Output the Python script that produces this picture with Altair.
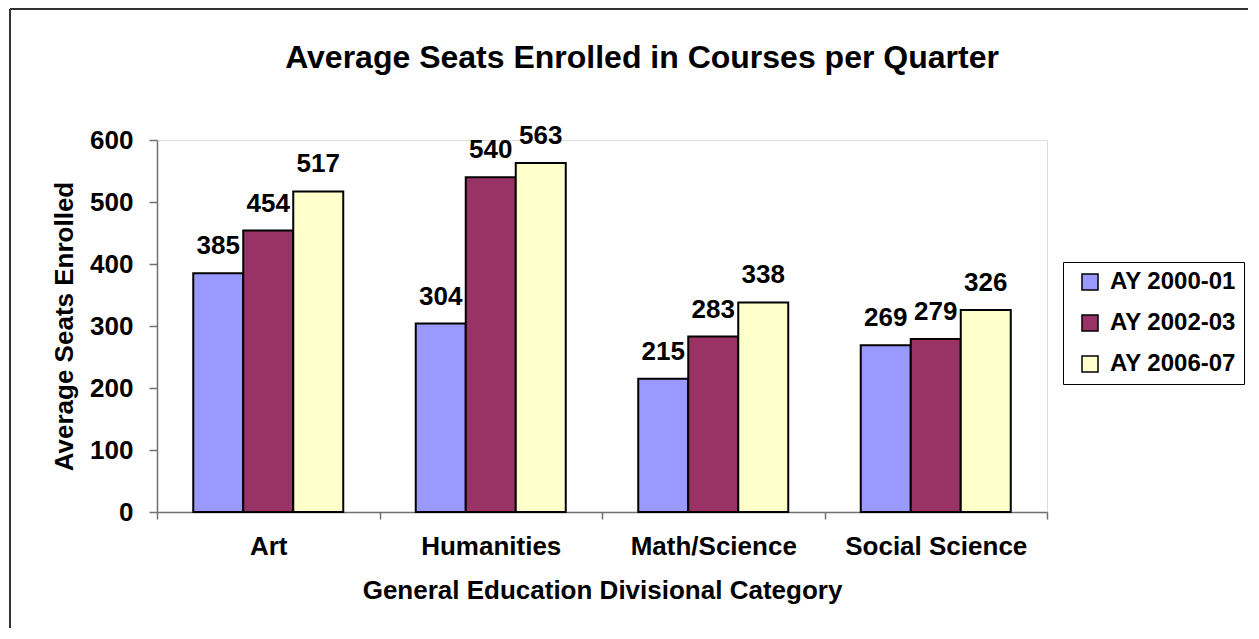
import altair as alt
import pandas as pd

categories = ["Art", "Humanities", "Math/Science", "Social Science"]
series = ["AY 2000-01", "AY 2002-03", "AY 2006-07"]
ay_2000_01 = [385, 304, 215, 269]
ay_2002_03 = [454, 540, 283, 279]
ay_2006_07 = [517, 563, 338, 326]
colors = ["#9999FF", "#993366", "#FFFFCC"]
y_ticks = [0, 100, 200, 300, 400, 500, 600]

rows = []
for s, vals in zip(series, [ay_2000_01, ay_2002_03, ay_2006_07]):
    for c, v in zip(categories, vals):
        rows.append({"cat": c, "series": s, "value": v})
df = pd.DataFrame(rows)

F = "Liberation Sans"
AX = "#707070"

base = alt.Chart(df).encode(
    x=alt.X(
        "cat:N",
        sort=categories,
        scale=alt.Scale(paddingInner=0, paddingOuter=0),
        axis=alt.Axis(
            title="General Education Divisional Category",
            labelAngle=0,
            labelLimit=400,
            tickBand="extent",
            domainColor=AX,
            domainWidth=1.5,
            tickColor=AX,
            tickWidth=1.5,
            tickSize=7,
            labelPadding=14,
            labelFont=F,
            labelFontSize=26,
            labelFontWeight="bold",
            labelColor="black",
            titleFont=F,
            titleFontSize=26,
            titleFontWeight="bold",
            titleColor="black",
            titlePadding=18,
            grid=False,
        ),
    ),
    xOffset=alt.XOffset(
        "series:N", sort=series, scale=alt.Scale(paddingInner=0, paddingOuter=0.725)
    ),
    y=alt.Y(
        "value:Q",
        scale=alt.Scale(domain=[0, 600], nice=False),
        axis=alt.Axis(
            title="Average Seats Enrolled",
            values=y_ticks,
            grid=False,
            domainColor=AX,
            domainWidth=1.5,
            tickColor=AX,
            tickWidth=1.5,
            tickSize=8,
            labelPadding=16,
            labelFont=F,
            labelFontSize=26,
            labelFontWeight="bold",
            labelColor="black",
            titleFont=F,
            titleFontSize=26,
            titleFontWeight="bold",
            titleColor="black",
            titlePadding=12,
        ),
    ),
)

bars = base.mark_bar(stroke="black", strokeWidth=2, opacity=1).encode(
    color=alt.Color(
        "series:N",
        sort=series,
        scale=alt.Scale(domain=series, range=colors),
        legend=alt.Legend(
            title=None,
            orient="none",
            legendX=906,
            legendY=122,
            strokeColor="black",
            fillColor="white",
            padding=8,
            symbolType="square",
            symbolSize=256,
            symbolStrokeColor="black",
            symbolStrokeWidth=1.5,
            symbolOpacity=1,
            symbolOffset=7,
            labelOffset=8,
            labelFont=F,
            labelFontSize=24,
            labelFontWeight="bold",
            labelColor="black",
            rowPadding=17,
        ),
    )
)

labels = base.mark_text(
    dy=-19, baseline="alphabetic", align="center", font=F, fontSize=26,
    fontWeight="bold", color="black"
).encode(text=alt.Text("value:Q"))

frame_df = pd.DataFrame({"k": [0]})
top_line = alt.Chart(frame_df).mark_rule(color="#333333", strokeWidth=2).encode(
    x=alt.value(-147), x2=alt.value(1200), y=alt.value(-131)
)
left_line = alt.Chart(frame_df).mark_rule(color="#333333", strokeWidth=2).encode(
    x=alt.value(-147), y=alt.value(-131), y2=alt.value(600)
)

chart = alt.layer(bars, labels, top_line, left_line).properties(
    width=890,
    height=372,
    autosize=alt.AutoSizeParams(type="none"),
    padding={"left": 149, "top": 132, "right": 201, "bottom": 116},
    title=alt.TitleParams(
        text="Average Seats Enrolled in Courses per Quarter",
        font=F,
        fontSize=32,
        fontWeight="bold",
        color="black",
        anchor="middle",
        dx=40,
        baseline="alphabetic",
        offset=-92,
    ),
).configure_view(stroke=None).configure(background="white")

chart.save("out.html", embed_options={"renderer": "svg", "actions": False})
